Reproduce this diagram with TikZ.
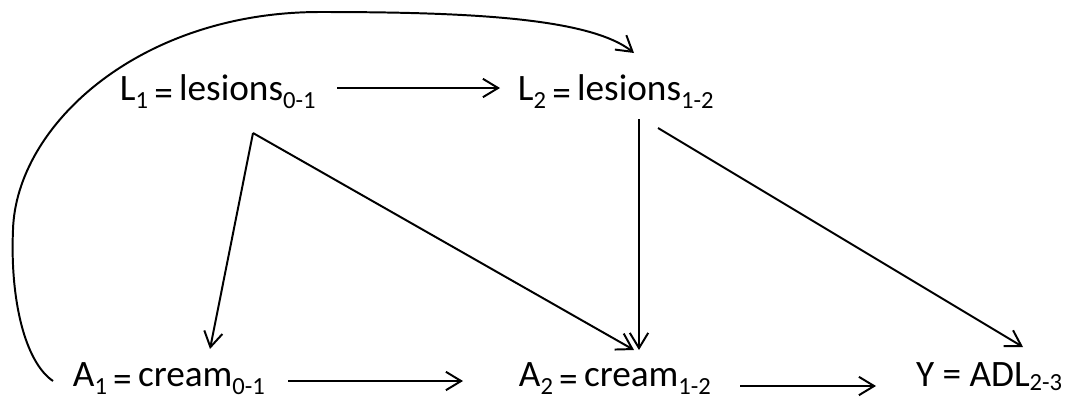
\documentclass[tikz,border=0pt]{standalone}
\usepackage{fontspec}
\setmainfont{Carlito}
\usetikzlibrary{arrows.meta,calc}
\newcommand{\lowsub}[1]{\raisebox{-0.22em}{\fontsize{17.5}{20}\selectfont #1}}
\newcommand{\loweq}{\raisebox{-0.15em}{=}}

\begin{document}
\begin{tikzpicture}[x=0.025cm, y=-0.025cm, line width=1.4pt,
    >={Straight Barb[length=0.38cm,width=0.46cm]},
    var/.style={inner sep=0pt, anchor=base west, font=\fontsize{26.5}{30}\selectfont}]
  \useasboundingbox (0,0) rectangle (1075,403);

  % variables
  \node[var] (L1) at (119,100) {L\lowsub{1}\,\loweq\,lesions\lowsub{0-1}};
  \node[var] (L2) at (517,100) {L\lowsub{2}\,\loweq\,lesions\lowsub{1-2}};
  \node[var] (A1) at (72,386) {A\lowsub{1}\,\loweq\,cream\lowsub{0-1}};
  \node[var] (A2) at (518,386) {A\lowsub{2}\,\loweq\,cream\lowsub{1-2}};
  \node[var] (Y) at (915,386) {Y = ADL\raisebox{-0.12em}{\fontsize{17.5}{20}\selectfont 2-3}};

  % arrows
  \draw[->] ($(L1.base west)+(218,-12)$) -- ($(L2.base west)+(-17,-12)$);
  \draw[->] ($(L1.base west)+(134,33)$) -- ($(A1.base west)+(138,-37)$);
  \draw[->] ($(L1.base west)+(134,33)$) -- ($(A2.base west)+(116,-36)$);
  \draw[->] ($(L2.base west)+(122,19)$) -- ($(A2.base west)+(121,-36)$);
  \draw[->] ($(L2.base west)+(141,28)$) -- ($(Y.base west)+(108,-39)$);
  \draw[->] ($(A1.base west)+(216,-5)$) -- ($(A2.base west)+(-55,-5)$);
  \draw[->] ($(A2.base west)+(222,0)$) -- ($(Y.base west)+(-39,0)$);
  \draw[->] ($(A1.base west)+(-19,-5)$) .. controls (25,362) and (10,300) .. (13,230)
        .. controls (16,125) and (140,12) .. (320,12)
        .. controls (470,12) and (590,18) .. ($(L2.base west)+(117,-47)$);
\end{tikzpicture}
\end{document}
